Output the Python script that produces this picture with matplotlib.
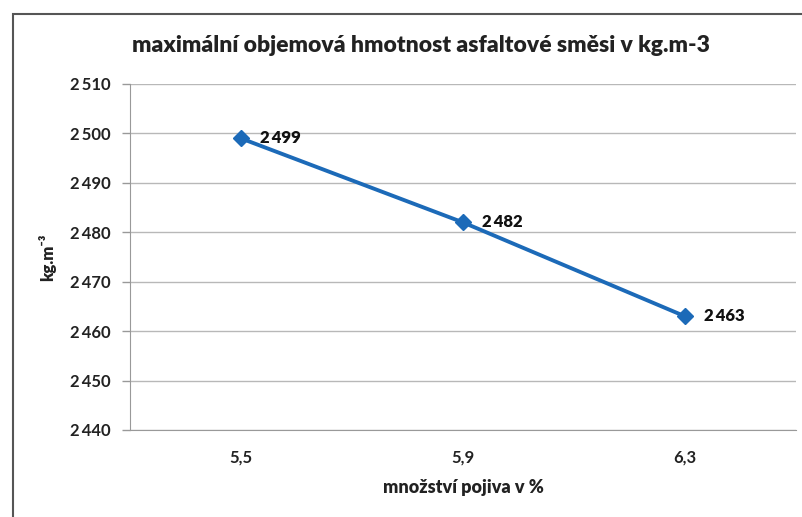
import matplotlib
matplotlib.use("Agg")
import matplotlib.pyplot as plt
from matplotlib.patches import Rectangle
from matplotlib.ticker import FuncFormatter

categories = ["5,5", "5,9", "6,3"]
values = [2499, 2482, 2463]
yticks = [2440, 2450, 2460, 2470, 2480, 2490, 2500, 2510]

plt.rcParams['font.family'] = ['Lato', 'DejaVu Sans']

fig = plt.figure(figsize=(8.03, 5.17), dpi=100)
fig.patches.append(Rectangle((13/803, -0.1), 1.2, 1 - 14/517 + 0.1, transform=fig.transFigure,
                             fill=False, edgecolor='#555555', linewidth=1.5))
ax = fig.add_axes([130/803, 1 - 430/517, (796 - 130)/803, (430 - 84)/517])

x = list(range(len(categories)))
ax.plot(x, values, color='#1c6ab8', linewidth=2.8, marker='D', markersize=8,
        markerfacecolor='#1c6ab8', markeredgecolor='#1c6ab8', zorder=3)
for xi, v in zip(x, values):
    ax.annotate(f"{v // 1000}\u2009{v % 1000:03d}", (xi, v), xytext=(14, 0), textcoords='offset points',
                ha='left', va='center', fontsize=12, fontweight='heavy', color='#111111',
                family=['Lato', 'DejaVu Sans'])

ax.set_xlim(-0.5, len(categories) - 0.5)
ax.set_ylim(2440, 2510)
ax.set_xticks(x)
ax.set_xticklabels(categories)
ax.set_yticks(yticks)
ax.yaxis.set_major_formatter(FuncFormatter(lambda v, p: f"{int(v) // 1000}\u2009{int(v) % 1000:03d}"))
ax.tick_params(axis='x', length=0, pad=14, labelsize=12, colors='#222222')
ax.tick_params(axis='y', length=6, width=1, color='#999999', pad=8, labelsize=12, labelcolor='#222222')
for lbl in ax.get_xticklabels() + ax.get_yticklabels():
    lbl.set_fontweight('bold')

ax.grid(axis='y', color='#b8b8b8', linewidth=1)
ax.set_axisbelow(True)
for s in ['top', 'right']:
    ax.spines[s].set_visible(False)
ax.spines['left'].set_color('#999999')
ax.spines['bottom'].set_color('#999999')

ax.set_xlabel("množství pojiva v %", fontsize=13, fontweight='heavy', labelpad=10, color='#222222')
ax.set_ylabel("kg.m\u207b\u00b3", fontsize=12, fontweight='heavy', labelpad=10, color='#222222')
fig.text(421/803, 1 - 45/517, "maximální objemová hmotnost asfaltové směsi v kg.m-3",
         ha='center', va='center', fontsize=16.5, fontweight='heavy', color='#222222')

fig.savefig("out.png", dpi=100)
